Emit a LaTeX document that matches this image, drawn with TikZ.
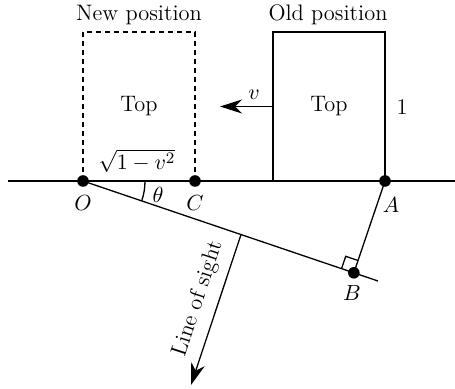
\documentclass[tikz,border=0pt]{standalone}
\usetikzlibrary{arrows.meta,angles,calc}
\begin{document}
\begin{tikzpicture}[x=0.5pt,y=-0.5pt,
  every node/.style={font=\fontsize{11.2}{13.5}\selectfont},
  thinline/.style={line width=0.65pt},
  boxline/.style={line width=1.1pt},
  dashbox/.style={line width=1.1pt,dash pattern=on 2.5pt off 2pt},
  dashthin/.style={line width=0.7pt,dash pattern=on 2.5pt off 1.8pt},
  dot/.style={circle,fill=black,inner sep=0pt,minimum size=5.8pt},
  arr/.style={-{Stealth[length=11pt,width=7pt,inset=3.5pt]}},
  lbl/.style={inner sep=0pt}]
\useasboundingbox (0,0) rectangle (455,389);
% base line
\coordinate (L0) at (8,181);
\coordinate (L1) at (455,181);
\draw[thinline] (L0) -- (L1);
% points
\coordinate (O) at (83,181);
\coordinate (C) at (195,181);
\coordinate (A) at (385,181);
\coordinate (E) at (378,281);
\coordinate (B) at ($(O)!(A)!(E)$);
% boxes
\node[lbl,minimum width=56pt,minimum height=74.5pt,outer sep=0pt] (newbox) at (139,106.5) {Top};
\draw[dashbox] (newbox.south west) -- (newbox.north west) -- (newbox.north east) -- (newbox.south east);
\draw[dashthin] (O) -- (C);
\node[lbl,draw,boxline,minimum width=56pt,minimum height=74.5pt,outer sep=0pt] (oldbox) at (329,106.5) {Top};
% titles
\node[lbl] (newt) at (139,15) {New position};
\node[lbl] (oldt) at (328,15) {Old position};
% velocity
\coordinate (vtip) at (220,106.5);
\draw[thinline,arr] (oldbox.west) -- (vtip);
\node[lbl] (vl) at (254,95) {$v$};
\node[lbl] (one) at (402,107) {1};
\node[lbl] (sq) at (137,161) {$\sqrt{1-v^2}$};
% sight lines
\draw[thinline] (O) -- (E);
\draw[thinline] (A) -- (B);
\coordinate (F) at ($(O)!0.5356!(E)$);
\coordinate (Ltip) at (191,385);
\draw[thinline,arr] (F) -- (Ltip);
\node[lbl,rotate=71.9] (los) at (198,299) {Line of sight};
% angles
\pic[draw,thinline,angle radius=31pt] {angle=B--O--C};
\pic[draw,thinline,angle radius=6.5pt] {right angle=A--B--O};
\node[lbl] (th) at (158,195) {$\theta$};
% dots
\node[dot] (Od) at (O) {};
\node[dot] (Cd) at (C) {};
\node[dot] (Ad) at (A) {};
\node[dot] (Bd) at (B) {};
% labels
\node[lbl] (Ol) at (83,203) {$O$};
\node[lbl] (Cl) at (195,203) {$C$};
\node[lbl] (Al) at (391,205) {$A$};
\node[lbl] (Bl) at (352,293) {$B$};
\end{tikzpicture}
\end{document}
